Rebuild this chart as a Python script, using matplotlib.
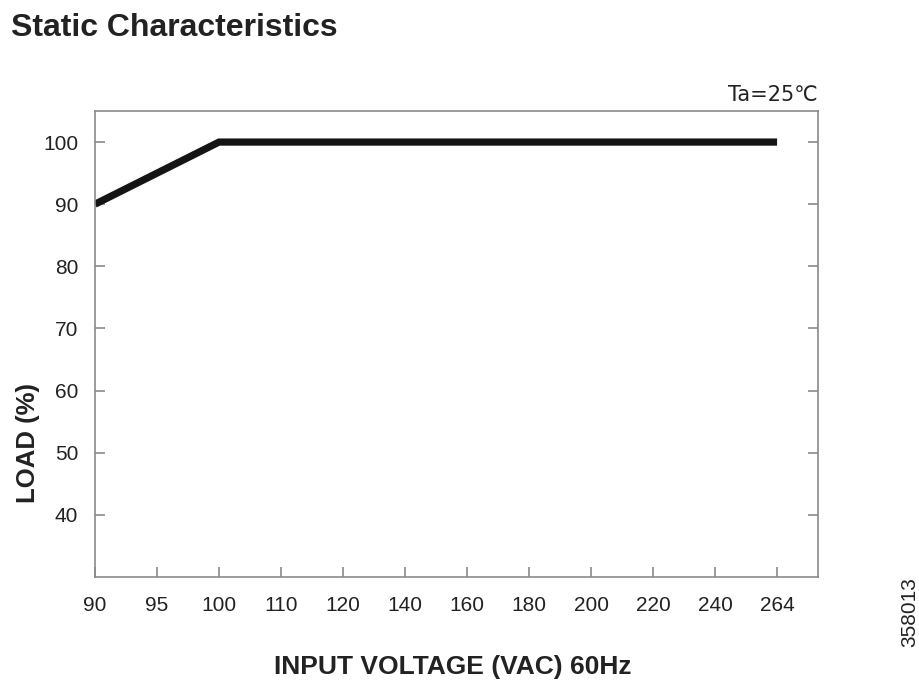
import matplotlib
matplotlib.use("Agg")
import matplotlib.pyplot as plt

# Data
voltage_labels = ["90", "95", "100", "110", "120", "140", "160", "180", "200", "220", "240", "264"]
line_voltage = ["90", "100", "264"]
line_load = [90, 100, 100]
y_ticks = [40, 50, 60, 70, 80, 90, 100]

FN = ["Liberation Sans Narrow", "Liberation Sans", "DejaVu Sans"]
plt.rcParams['font.family'] = FN

fig = plt.figure(figsize=(9.19, 6.85), dpi=100)
ax = fig.add_axes([95/919, 1 - 577/685, (818-95)/919, (577-111)/685])

xpos = [voltage_labels.index(v) for v in line_voltage]
ax.plot(xpos, line_load, color="#141414", lw=5.2, solid_capstyle="butt", solid_joinstyle="miter")

ax.set_xlim(0, 11.66)
ax.set_ylim(30, 105)
ax.set_xticks(range(len(voltage_labels)))
ax.set_xticklabels(voltage_labels)
ax.set_yticks(y_ticks)
ax.set_yticklabels([str(t) for t in y_ticks])

for s in ax.spines.values():
    s.set_color("#8a8a8a")
    s.set_linewidth(1.2)
ax.tick_params(axis="both", direction="in", length=7, width=1.2, color="#8a8a8a",
               labelsize=15, labelcolor="#222222")
ax.tick_params(axis="x", pad=14)
ax.tick_params(axis="y", pad=12, right=True)

ax.set_xlabel("INPUT VOLTAGE (VAC) 60Hz", fontsize=19, fontweight="bold", color="#222222")
ax.xaxis.set_label_coords((453-95)/723, -(667-577)/466)
ax.xaxis.label.set_va("center")
ax.set_ylabel("LOAD (%)", fontsize=18.5, fontweight="bold", color="#222222")
ax.yaxis.set_label_coords((28-95)/723, (577-443)/466)
ax.yaxis.label.set_va("center")

fig.text(11/919, 1 - 28/685, "Static Characteristics", fontsize=23, fontweight="bold",
         color="#222222", ha="left", va="center")
fig.text(818/919, 1 - 95/685, "Ta=25℃", fontsize=15, color="#222222", ha="right", va="center",
         family=["Liberation Sans Narrow", "DejaVu Sans", "Noto Sans CJK SC"])
fig.text(910/919, 1 - 612/685, "358013", fontsize=15, color="#222222", rotation=90,
         ha="center", va="center")

fig.savefig("out.png", dpi=100)
